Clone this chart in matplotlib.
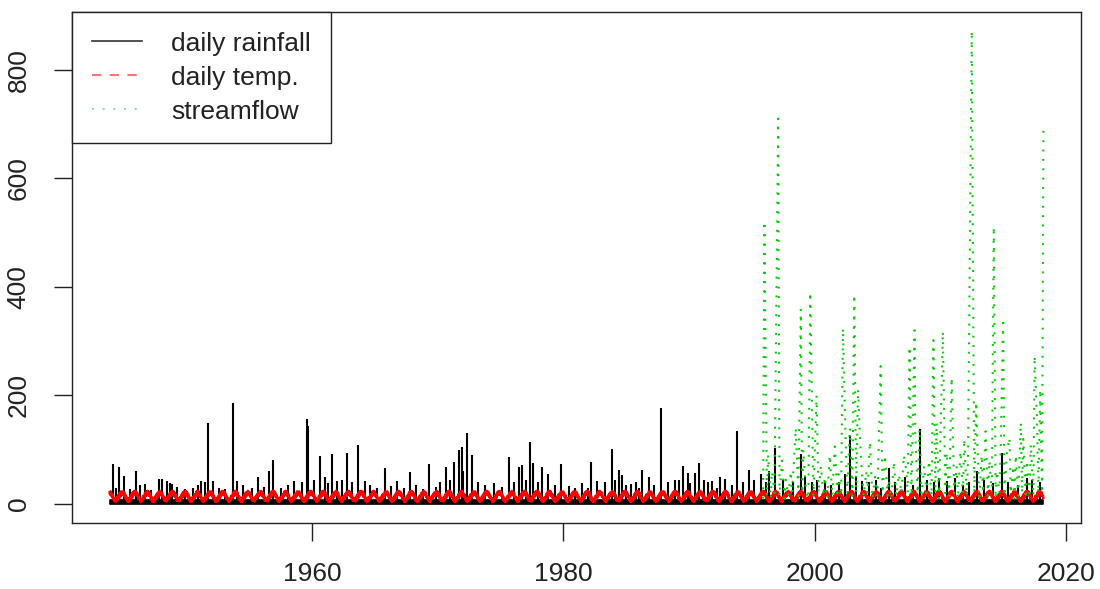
"""Daily rainfall, temperature and streamflow series, R base-graphics look."""

import matplotlib

matplotlib.use("Agg")
import matplotlib.pyplot as plt
import numpy as np
from matplotlib.lines import Line2D

plt.rcParams["font.family"] = ["Liberation Sans", "DejaVu Sans"]

# ---------------------------------------------------------------- data
# record span (decimal years)
record_start = 1943.9
record_end = 2018.2

# rainfall spikes (mm/day)
rain_years = [
    1944.16, 1944.4, 1944.68, 1945.03, 1945.5, 1946.0, 1946.3, 1946.75, 1947.2,
    1947.86, 1948.1, 1948.5, 1948.7, 1948.9, 1949.3, 1949.9, 1950.5, 1950.9,
    1951.2, 1951.5, 1951.76, 1952.15, 1952.6, 1953.1, 1953.7, 1954.0, 1954.5,
    1955.2, 1955.7, 1956.2, 1956.6, 1956.9, 1957.5, 1958.1, 1958.6, 1959.2,
    1959.6, 1959.7, 1960.2, 1960.6, 1961.0, 1961.3, 1961.6, 1962.0, 1962.4,
    1962.8, 1963.2, 1963.7, 1964.2, 1964.6, 1965.2, 1965.8, 1966.3, 1966.8,
    1967.3, 1967.8, 1968.3, 1968.8, 1969.3, 1969.9, 1970.2, 1970.65, 1971.0,
    1971.3, 1971.7, 1971.9, 1972.0, 1972.3, 1972.7, 1973.2, 1973.8, 1974.5,
    1975.1, 1975.7, 1976.1, 1976.5, 1976.7, 1977.0, 1977.35, 1977.6, 1978.0,
    1978.3, 1978.8, 1979.3, 1979.85, 1980.45, 1980.9, 1981.5, 1982.0, 1982.2,
    1982.7, 1983.3, 1983.9, 1984.1, 1984.4, 1984.7, 1985.0, 1985.4, 1985.8,
    1986.0, 1986.3, 1986.8, 1987.2, 1987.8, 1988.3, 1988.9, 1989.2, 1989.5,
    1989.9, 1990.1, 1990.45, 1990.8, 1991.2, 1991.5, 1991.85, 1992.2, 1992.5,
    1992.9, 1993.4, 1993.8, 1994.3, 1994.8, 1995.2, 1995.75, 1996.1, 1996.4,
    1996.85, 1997.5, 1998.3, 1998.9, 1999.2, 1999.8, 2000.2, 2000.8, 2001.3,
    2001.9, 2002.4, 2002.8, 2003.3, 2003.8, 2004.3, 2004.9, 2005.3, 2005.9,
    2006.4, 2007.2, 2007.8, 2008.4, 2008.9, 2009.5, 2009.9, 2010.5, 2011.2,
    2011.8, 2012.3, 2012.9, 2013.5, 2014.2, 2014.9, 2015.4, 2016.2, 2016.9,
    2017.3, 2017.9,
]
rain_mm = [
    73, 30, 68, 51, 28, 60, 35, 36, 25,
    46, 46, 43, 38, 37, 32, 28, 30, 35,
    42, 40, 150, 42, 30, 28, 186, 42, 35,
    30, 50, 32, 60, 82, 30, 35, 42, 40,
    156, 143, 45, 88, 50, 38, 92, 43, 45,
    94, 40, 108, 42, 35, 30, 66, 33, 42,
    30, 59, 35, 28, 73, 32, 40, 68, 45,
    78, 99, 105, 60, 130, 91, 40, 35, 38,
    32, 86, 40, 68, 72, 45, 115, 75, 40,
    69, 55, 35, 73, 33, 30, 38, 30, 78,
    43, 40, 102, 45, 63, 53, 35, 37, 40,
    30, 62, 49, 35, 176, 40, 45, 45, 70,
    57, 38, 57, 76, 45, 40, 42, 30, 49,
    47, 35, 134, 40, 63, 45, 56, 40, 60,
    103, 45, 40, 93, 50, 40, 45, 40, 35,
    40, 55, 125, 50, 43, 40, 45, 30, 66,
    40, 50, 35, 138, 45, 40, 48, 42, 48,
    35, 40, 60, 45, 38, 94, 40, 35, 48,
    45, 40,
]
rain_floor_mm = 8  # solid black band of everyday small rainfall

# daily temperature: one year's cycle (half-monthly, deg C), repeated
temp_cycle = [24, 18, 23, 16, 21, 13, 17, 9, 13, 6, 10, 4,
              9, 5, 12, 7, 15, 10, 18, 12, 21, 15, 23, 17]

# streamflow (ML/day): peaks and the low flows between them
stream_years = [
    1995.9, 1996.0, 1996.2, 1996.3, 1996.5, 1996.6, 1996.8, 1997.1, 1997.2,
    1997.4, 1997.6, 1997.7, 1997.9, 1998.1, 1998.2, 1998.5, 1998.7, 1998.9,
    1999.0, 1999.1, 1999.3, 1999.5, 1999.65, 1999.9, 2000.15, 2000.3, 2000.5,
    2000.7, 2000.8, 2001.0, 2001.2, 2001.4, 2001.6, 2001.8, 2001.9, 2002.1,
    2002.25, 2002.5, 2002.6, 2002.8, 2003.0, 2003.15, 2003.3, 2003.45, 2003.7,
    2003.9, 2004.1, 2004.2, 2004.4, 2004.6, 2004.8, 2005.0, 2005.25, 2005.4,
    2005.6, 2005.8, 2005.9, 2006.1, 2006.3, 2006.5, 2006.7, 2006.9, 2007.1,
    2007.3, 2007.4, 2007.55, 2007.7, 2007.95, 2008.0, 2008.2, 2008.35, 2008.5,
    2008.7, 2008.9, 2009.1, 2009.3, 2009.45, 2009.6, 2009.7, 2009.9, 2010.2,
    2010.4, 2010.5, 2010.7, 2010.9, 2011.1, 2011.3, 2011.4, 2011.6, 2011.8,
    2011.9, 2012.1, 2012.2, 2012.5, 2012.7, 2012.85, 2013.0, 2013.1, 2013.3,
    2013.4, 2013.6, 2013.8, 2013.9, 2014.1, 2014.25, 2014.4, 2014.5, 2014.7,
    2014.8, 2015.0, 2015.1, 2015.3, 2015.5, 2015.6, 2015.8, 2015.9, 2016.0,
    2016.2, 2016.4, 2016.5, 2016.6, 2016.8, 2016.9, 2017.1, 2017.2, 2017.4,
    2017.5, 2017.7, 2017.8, 2017.95, 2018.0, 2018.1, 2018.2,
]
stream_flow = [
    10, 521, 15, 90, 10, 60, 20, 710, 15,
    80, 10, 45, 15, 60, 20, 140, 15, 359,
    20, 100, 25, 10, 390, 15, 200, 20, 70,
    15, 50, 10, 90, 15, 106, 20, 55, 15,
    324, 80, 20, 140, 15, 386, 20, 211, 75,
    15, 60, 20, 115, 10, 50, 15, 254, 20,
    90, 15, 45, 10, 78, 15, 55, 20, 90,
    60, 20, 290, 15, 320, 130, 20, 138, 10,
    70, 20, 80, 15, 302, 20, 150, 10, 318,
    20, 95, 15, 233, 20, 70, 10, 97, 20,
    120, 15, 80, 872, 20, 188, 70, 10, 90,
    20, 134, 15, 80, 20, 511, 10, 60, 20,
    100, 342, 15, 95, 122, 20, 70, 10, 90,
    15, 150, 20, 120, 10, 80, 20, 110, 15,
    273, 150, 20, 211, 130, 20, 701,
]

# ---------------------------------------------------------------- layout
fig = plt.figure(figsize=(11, 5.89), dpi=100)
ax = fig.add_axes([0.0657, 0.1121, 0.9168, 0.868])

# rainfall (black, solid)
ax.fill_between([record_start, record_end], 0, rain_floor_mm,
                color="black", linewidth=1.2, zorder=1)
ax.vlines(rain_years, 0, rain_mm, color="black", linewidth=1.5, zorder=2)

# temperature (red, dashed), repeating cycle across the record
n_years = int(np.ceil(record_end - record_start))
temp_vals = np.tile(temp_cycle, n_years)
temp_t = record_start + np.arange(temp_vals.size) / len(temp_cycle)
keep = temp_t <= record_end
ax.plot(temp_t[keep], temp_vals[keep], color="red", linewidth=2.0,
        linestyle=(0, (4, 1.0)), zorder=3)

# streamflow (green, dotted), drawn as one continuous series like R's lines()
green = "#00cc00"
ax.plot(stream_years, stream_flow, color=green, linewidth=1.5,
        linestyle=(0, (0.9, 3.6)), zorder=4)

# R-style 4 % axis padding
x_lo, x_hi = record_start, record_end
y_lo, y_hi = 0, max(max(stream_flow), max(rain_mm))
ax.set_xlim(x_lo - 0.04 * (x_hi - x_lo), x_hi + 0.04 * (x_hi - x_lo))
ax.set_ylim(y_lo - 0.04 * (y_hi - y_lo), y_hi + 0.04 * (y_hi - y_lo))

ax.set_xticks([1960, 1980, 2000, 2020])
ax.set_yticks([0, 200, 400, 600, 800])
ax.tick_params(axis="both", direction="out", length=13, width=1.0,
               labelsize=19, colors="#222222")
ax.tick_params(axis="x", pad=15)
ax.tick_params(axis="y", pad=17)
for label in ax.get_yticklabels():
    label.set_rotation(90)
    label.set_va("center")
for spine in ax.spines.values():
    spine.set_linewidth(1.0)
    spine.set_color("#222222")

handles = [
    Line2D([], [], color="#333333", linewidth=1.2),
    Line2D([], [], color="red", alpha=0.55, linewidth=1.5,
           linestyle=(0, (4.5, 4))),
    Line2D([], [], color="#20c060", alpha=0.55, linewidth=1.4,
           linestyle=(0, (1, 4.5))),
]
legend = ax.legend(
    handles,
    ["daily rainfall", "daily temp.", "streamflow"],
    loc="upper left",
    bbox_to_anchor=(0, 1),
    borderaxespad=0,
    fontsize=19,
    frameon=True,
    fancybox=False,
    framealpha=1,
    edgecolor="#222222",
    borderpad=0.75,
    handlelength=1.9,
    handletextpad=1.1,
    labelspacing=0.38,
)
legend.get_frame().set_linewidth(1.0)
for text in legend.get_texts():
    text.set_color("#222222")

fig.savefig("out.png", dpi=100, facecolor="white")
